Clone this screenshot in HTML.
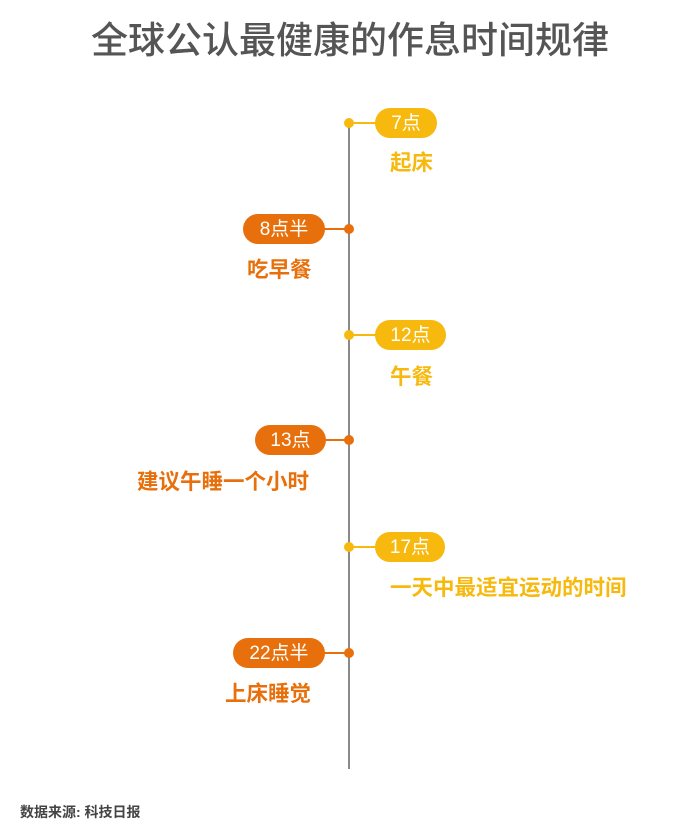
<!DOCTYPE html>
<html><head><meta charset="utf-8"><style>
body{margin:0;width:700px;height:840px;background:#fff;position:relative;overflow:hidden;font-family:"Liberation Sans","Noto Sans CJK SC",sans-serif}
.a{position:absolute}
.t{left:0;width:700px;top:16px;text-align:center;font-size:37px;color:#555;line-height:50px;font-weight:500}
.line{left:348px;top:123px;width:2px;height:646px;background:#8a8a8a}
.dot{width:10px;height:10px;border-radius:50%}
.c{height:2px}
.p{height:30px;border-radius:15px;color:#fff;font-size:19px;line-height:32px;text-align:center}
.y{background:#F7B90D}.o{background:#E8700C}
.l{font-size:21.5px;font-weight:bold;line-height:26px;white-space:nowrap}
.ly{color:#F7B90D}.lo{color:#E8700C}
</style></head><body>
<div class="a t">全球公认最健康的作息时间规律</div>
<div class="a line"></div>

<div class="a dot y" style="left:344px;top:118px"></div><div class="a c y" style="left:349px;top:122px;width:30px"></div>
<div class="a p y" style="left:375px;top:108px;width:62px">7点</div>
<div class="a l ly" style="left:390px;top:150px">起床</div>

<div class="a dot o" style="left:344px;top:224px"></div><div class="a c o" style="left:320px;top:228px;width:29px"></div>
<div class="a p o" style="left:243px;top:214px;width:82px">8点半</div>
<div class="a l lo" style="left:247px;top:257px">吃早餐</div>

<div class="a dot y" style="left:344px;top:330px"></div><div class="a c y" style="left:349px;top:334px;width:30px"></div>
<div class="a p y" style="left:375px;top:320px;width:71px">12点</div>
<div class="a l ly" style="left:390px;top:364px">午餐</div>

<div class="a dot o" style="left:344px;top:435px"></div><div class="a c o" style="left:320px;top:439px;width:29px"></div>
<div class="a p o" style="left:255px;top:425px;width:71px">13点</div>
<div class="a l lo" style="left:137px;top:469px">建议午睡一个小时</div>

<div class="a dot y" style="left:344px;top:542px"></div><div class="a c y" style="left:349px;top:546px;width:30px"></div>
<div class="a p y" style="left:375px;top:532px;width:70px">17点</div>
<div class="a l ly" style="left:390px;top:575px">一天中最适宜运动的时间</div>

<div class="a dot o" style="left:344px;top:648px"></div><div class="a c o" style="left:320px;top:652px;width:29px"></div>
<div class="a p o" style="left:233px;top:638px;width:92px">22点半</div>
<div class="a l lo" style="left:225px;top:681px">上床睡觉</div>

<div class="a" style="left:20px;top:802px;font-size:14px;color:#444;font-weight:bold">数据来源: 科技日报</div>
</body></html>
